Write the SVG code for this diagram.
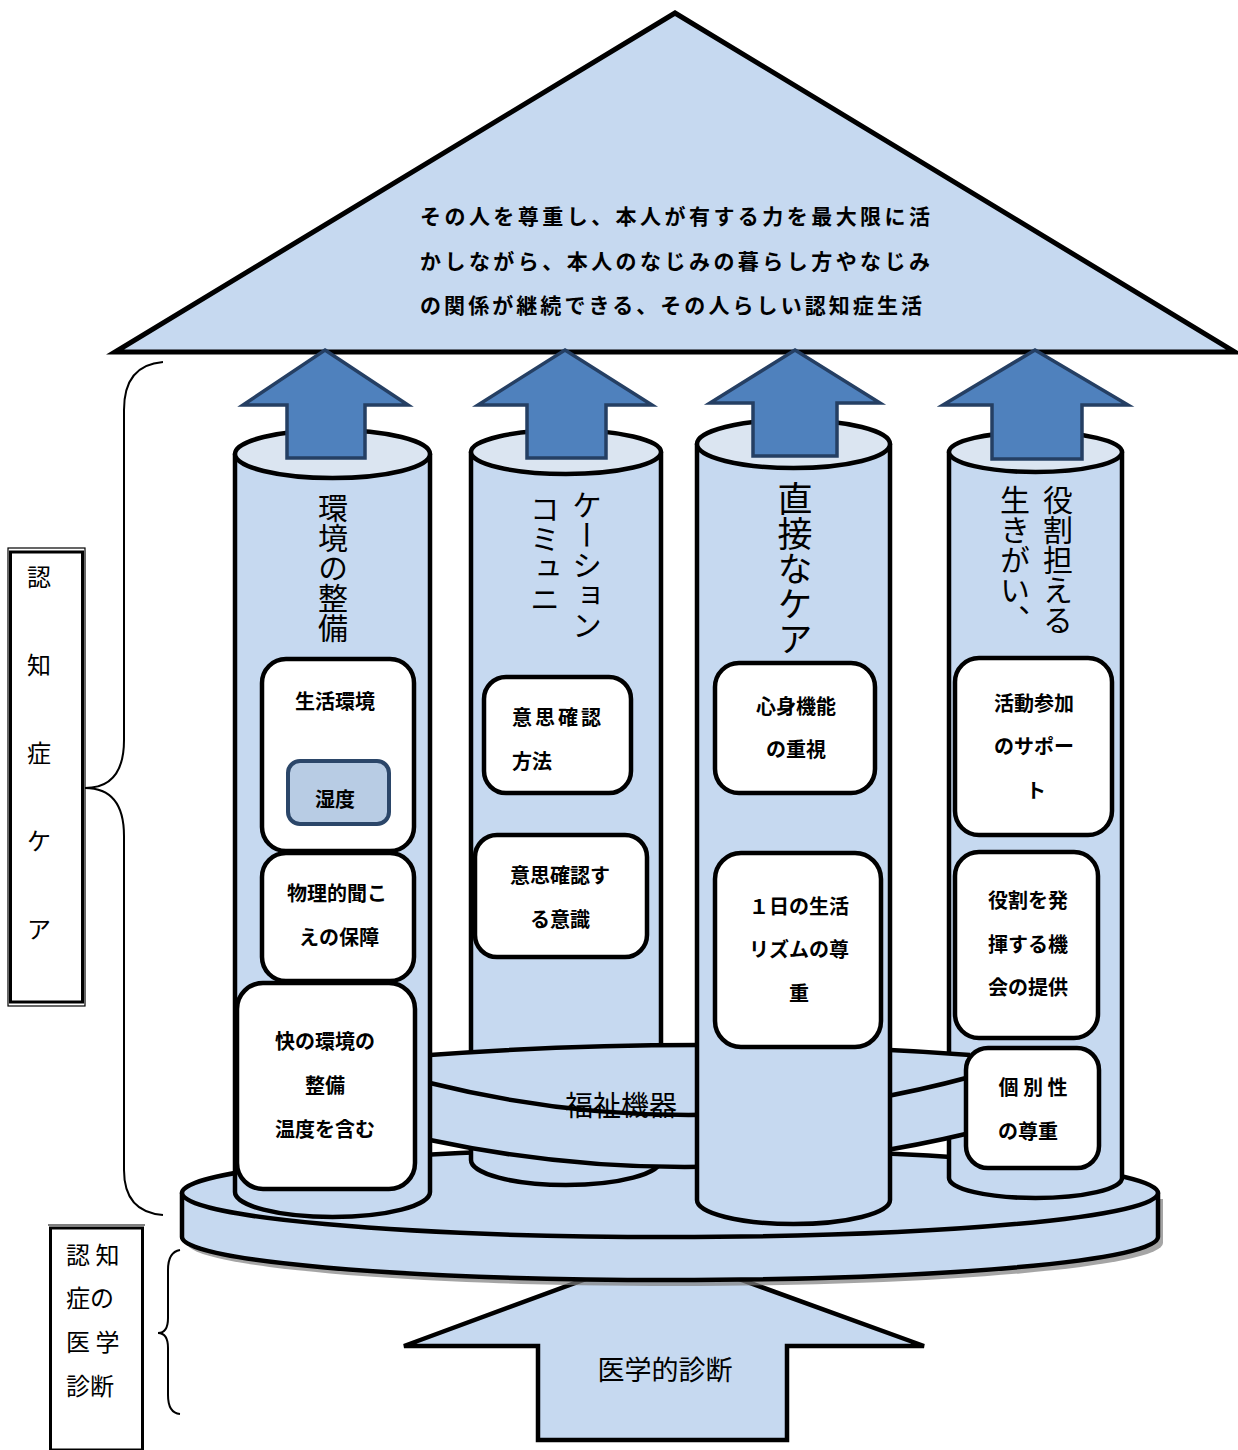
<svg xmlns="http://www.w3.org/2000/svg" width="1238" height="1450" viewBox="0 0 1238 1450">
<style>
.t{font-family:'Noto Sans CJK JP','Noto Sans CJK SC',sans-serif;fill:#000}
.bx{font-size:20px;font-weight:bold;text-anchor:middle}
.vt{writing-mode:vertical-rl;font-size:30px}
.body{fill:#c6d9f0;stroke:#000;stroke-width:4.5;stroke-linejoin:round}
.top{fill:#dbe5f1;stroke:#000;stroke-width:4.5}
.card{fill:#fff;stroke:#000;stroke-width:4.5}
.arr{fill:#4f81bd;stroke:#253f63;stroke-width:3.5;stroke-linejoin:miter}
.ln{fill:none;stroke:#000;stroke-width:4.5}
.br{fill:none;stroke:#000;stroke-width:2}
</style>

<!-- roof -->
<g id="roof">
<polygon points="675,13 1235,352 115,352" fill="#c6d9f0" stroke="#000" stroke-width="5" stroke-linejoin="miter"/>
<text class="t" x="420" y="224" font-size="21" font-weight="bold" textLength="510" lengthAdjust="spacing">その人を尊重し、本人が有する力を最大限に活</text>
<text class="t" x="420" y="269" font-size="21" font-weight="bold" textLength="510" lengthAdjust="spacing">かしながら、本人のなじみの暮らし方やなじみ</text>
<text class="t" x="420" y="313" font-size="21" font-weight="bold" textLength="502" lengthAdjust="spacing">の関係が継続できる、その人らしい認知症生活</text>
</g>

<!-- medical diagnosis arrow -->
<g id="diagnosis">
<polygon points="662,1251 924,1346 787,1346 787,1440 538,1440 538,1346 404,1346" fill="#c6d9f0" stroke="#000" stroke-width="4.5" stroke-linejoin="miter"/>
<text class="t" x="665" y="1380" font-size="27" text-anchor="middle">医学的診断</text>
</g>

<!-- base platform -->
<g id="platform">
<path d="M187,1199 L187,1243 A488,43 0 0 0 1163,1243 L1163,1199 Z" fill="#7f7f7f" opacity="0.7"/>
<path d="M182,1193 L182,1237 A488,43 0 0 0 1158,1237 L1158,1193 Z" class="body"/>
<ellipse cx="670" cy="1193" rx="488" ry="44" class="body"/>
</g>

<!-- pillar 2 -->
<g id="pillar-communication">
<path d="M471,452 L471,1160 A95,25 0 0 0 661,1160 L661,452 Z" class="body"/>
<ellipse cx="566" cy="452" rx="95" ry="22" class="top"/>
<text class="t vt" x="587" y="490">ケーション</text>
<text class="t vt" x="545" y="494">コミュニ</text>
<rect x="484" y="677" width="147" height="116" rx="22" class="card"/>
<text class="t" x="512" y="725" font-size="20" font-weight="bold" letter-spacing="3">意思確認</text>
<text class="t" x="512" y="769" font-size="20" font-weight="bold">方法</text>
<rect x="475" y="835" width="172" height="122" rx="22" class="card"/>
<text class="t bx" x="560" y="883">意思確認す</text>
<text class="t bx" x="560" y="927">る意識</text>
</g>

<!-- pillar 4 body -->
<g id="pillar-role">
<path d="M949,452 L949,1178 A86.5,20 0 0 0 1122,1178 L1122,452 Z" class="body"/>
<ellipse cx="1035.5" cy="452" rx="86.5" ry="20" class="top"/>
<text class="t vt" x="1058" y="485">役割担える</text>
<text class="t vt" x="1015" y="485">生きがい、</text>
<rect x="955" y="658" width="157" height="177" rx="24" class="card"/>
<text class="t bx" x="1034" y="711">活動参加</text>
<text class="t bx" x="1034" y="754">のサポー</text>
<text class="t bx" x="1036" y="798">ト</text>
<rect x="955" y="852" width="143" height="186" rx="24" class="card"/>
<text class="t bx" x="1028" y="908" font-size="19">役割を発</text>
<text class="t bx" x="1028" y="952" font-size="19">揮する機</text>
<text class="t bx" x="1028" y="995" font-size="19">会の提供</text>
</g>

<!-- welfare equipment disk -->
<g id="welfare-equipment">
<path d="M430,1055 Q700,1035 970,1055 L970,1133 Q700,1197.5 430,1140 Z" fill="#c6d9f0"/>
<path d="M430,1055 Q700,1035 970,1055" class="ln"/>
<text class="t" x="621" y="1116" font-size="28" text-anchor="middle">福祉機器</text>
<path d="M430,1083 Q700,1150 970,1077" class="ln"/>
<path d="M430,1140 Q700,1197.5 970,1133" class="ln"/>
</g>

<g id="box-individuality">
<rect x="966" y="1048" width="133" height="120" rx="22" class="card"/>
<text class="t bx" x="1033" y="1095" font-size="19">個 別 性</text>
<text class="t bx" x="1028" y="1139">の尊重</text>
</g>

<!-- pillar 1 -->
<g id="pillar-environment">
<path d="M235,454 L235,1192 A97.5,25 0 0 0 430,1192 L430,454 Z" class="body"/>
<ellipse cx="332.5" cy="454" rx="97.5" ry="24" class="top"/>
<text class="t vt" x="333" y="493">環境の整備</text>
<rect x="262" y="659" width="152" height="192" rx="24" class="card"/>
<text class="t bx" x="335" y="709">生活環境</text>
<rect x="288" y="761" width="101" height="63" rx="12" fill="#b8cce4" stroke="#2b4669" stroke-width="4"/>
<text class="t bx" x="335" y="807">湿度</text>
<rect x="262" y="853" width="152" height="128" rx="24" class="card"/>
<text class="t bx" x="337" y="901" font-size="18">物理的聞こ</text>
<text class="t bx" x="339" y="945" font-size="18">えの保障</text>
<rect x="237" y="983" width="178" height="206" rx="26" class="card"/>
<text class="t bx" x="325" y="1049">快の環境の</text>
<text class="t bx" x="325" y="1093">整備</text>
<text class="t bx" x="325" y="1137">温度を含む</text>
</g>

<!-- pillar 3 -->
<g id="pillar-direct-care">
<path d="M697,444 L697,1200 A96.5,24 0 0 0 890,1200 L890,444 Z" class="body"/>
<ellipse cx="793.5" cy="444" rx="96.5" ry="24" class="top"/>
<text class="t vt" x="795" y="481" font-size="35" style="font-size:35px">直接なケア</text>
<rect x="715" y="663" width="160" height="130" rx="24" class="card"/>
<text class="t bx" x="796" y="714">心身機能</text>
<text class="t bx" x="796" y="757">の重視</text>
<rect x="715" y="853" width="166" height="194" rx="26" class="card"/>
<text class="t bx" x="799" y="914" font-size="18">１日の生活</text>
<text class="t bx" x="799" y="957" font-size="18">リズムの尊</text>
<text class="t bx" x="799" y="1001" font-size="18">重</text>
</g>

<!-- connectors: upward arrows -->
<g id="connectors">
<polygon points="325,350 408,405 365,405 365,458 287,458 287,405 243,405" class="arr"/>
<polygon points="565,350 652,405 606,405 606,458 527,458 527,405 478,405" class="arr"/>
<polygon points="795,350 880,403 837,403 837,456 753,456 753,403 710,403" class="arr"/>
<polygon points="1035,350 1128,405 1082,405 1082,459 992,459 992,405 943,405" class="arr"/>
<path d="M163,362 Q124,365 124,410 L124,740 Q124,788 85,788 Q124,788 124,836 L124,1170 Q124,1212 163,1215" class="br"/>
<path d="M180,1250 Q168,1252 168,1270 L168,1318 Q168,1333 158,1333 Q168,1333 168,1348 L168,1395 Q168,1413 180,1414" class="br" stroke-width="1.5"/>
</g>

<!-- side labels -->
<g id="label-care">
<rect x="8" y="548" width="77" height="458" fill="none" stroke="#000" stroke-width="1.2"/>
<rect x="10.5" y="552" width="72" height="450" fill="#fff" stroke="#000" stroke-width="3"/>
<text class="t" x="39" y="586" font-size="24" text-anchor="middle">認</text>
<text class="t" x="39" y="674" font-size="24" text-anchor="middle">知</text>
<text class="t" x="39" y="762" font-size="24" text-anchor="middle">症</text>
<text class="t" x="39" y="850" font-size="24" text-anchor="middle">ケ</text>
<text class="t" x="39" y="938" font-size="24" text-anchor="middle">ア</text>
</g>

<g id="label-medical">
<line x1="48" y1="1225" x2="145" y2="1225" stroke="#000" stroke-width="1.2"/>
<rect x="50.5" y="1228" width="92" height="222" fill="#fff" stroke="#000" stroke-width="3"/>
<text class="t" x="66" y="1264" font-size="24">認 知</text>
<text class="t" x="66" y="1307" font-size="24">症の</text>
<text class="t" x="66" y="1351" font-size="24">医 学</text>
<text class="t" x="66" y="1395" font-size="24">診断</text>
</g>
</svg>
